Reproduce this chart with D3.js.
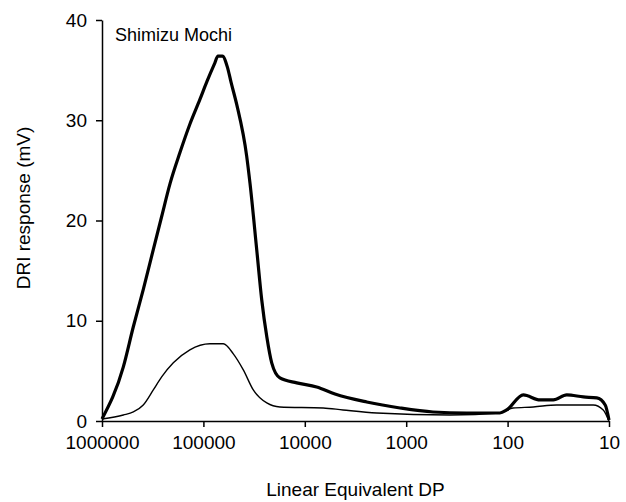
<!DOCTYPE html>
<html>
<head>
<meta charset="utf-8">
<script src="https://cdn.jsdelivr.net/npm/d3@7"></script>
<style>
  body { margin: 0; background: white; }
  #chart text { font-family: "Liberation Sans", Arial, sans-serif; fill: black; }
</style>
</head>
<body>
<div id="chart"></div>
<script>
// values
const sampleName = "Shimizu Mochi";

const dpThick = [1000000, 616000, 491000, 392000, 312000, 258000, 213000, 170000, 136000, 108000, 92000, 78000,
  71800, 65000, 58000, 53400, 47000, 37400, 34700, 29800, 26600, 23700, 21200, 17600, 12000, 7640, 5040,
  2450, 1150, 545, 253, 119, 102, 70, 47.9, 35.4, 26.1, 17.9, 13.2, 10.9, 10];
const thickValues = [0.2, 5.4, 9.4, 13.1, 17.1, 20.4, 23.7, 26.8, 29.6, 32.1, 33.9, 35.6,
  36.4, 36.4, 35.3, 33.8, 31.6, 26.4, 23.7, 17.1, 12.1, 8.4, 5.8, 4.3, 3.8, 3.4, 2.7,
  1.9, 1.3, 0.9, 0.8, 0.8, 1.1, 2.6, 2.1, 2.1, 2.6, 2.4, 2.3, 1.6, 0.1];

const dpThin = [1000000, 616000, 491000, 392000, 312000, 258000, 198000, 136000, 86100, 63600, 50700, 40400,
  32200, 23700, 17600, 6580, 4200, 1950, 370, 119, 88.5, 55.8, 32.8, 14.3, 11.4, 10];
const thinValues = [0.2, 0.6, 0.9, 1.6, 3.1, 4.4, 5.8, 7.1, 7.7, 7.7, 6.7, 5.1,
  3.1, 1.8, 1.4, 1.3, 1.1, 0.8, 0.6, 0.8, 1.3, 1.4, 1.6, 1.6, 1.1, 0];

const xTicks = [1000000, 100000, 10000, 1000, 100, 10];
const yTicks = [0, 10, 20, 30, 40];

const width = 626, height = 502;
const margin = { top: 20, right: 17, bottom: 81, left: 102 };
const w = width - margin.left - margin.right;
const h = height - margin.top - margin.bottom;

const svg = d3.select("#chart").append("svg")
    .attr("width", width)
    .attr("height", height);

const g = svg.append("g").attr("transform", `translate(${margin.left}, ${margin.top})`);

// DP axis runs high to low
const x = d3.scaleLog().domain([1000000, 10]).range([0, w]);
const y = d3.scaleLinear().domain([0, 40]).range([h, 0]);

const xAxis = g.append("g").attr("transform", `translate(0, ${h})`)
    .call(d3.axisBottom(x).tickValues(xTicks).tickFormat(d3.format("d")).tickSize(6).tickSizeOuter(0).tickPadding(9));
const yAxis = g.append("g")
    .call(d3.axisLeft(y).tickValues(yTicks).tickSize(6).tickSizeOuter(0).tickPadding(9));

[xAxis, yAxis].forEach(ax => {
    ax.selectAll("text").style("font-size", "19px");
    ax.selectAll(".domain, .tick line").style("stroke", "black").style("stroke-width", 1.5);
});

const line = d3.line()
    .x(d => x(d[0]))
    .y(d => y(d[1]))
    .curve(d3.curveMonotoneX);

g.append("path")
    .datum(d3.zip(dpThin, thinValues))
    .attr("d", line)
    .attr("fill", "none")
    .attr("stroke", "black")
    .attr("stroke-width", 1.4);

g.append("path")
    .datum(d3.zip(dpThick, thickValues))
    .attr("d", line)
    .attr("fill", "none")
    .attr("stroke", "black")
    .attr("stroke-width", 3.2)
    .attr("stroke-linejoin", "round");

g.append("text")
    .attr("x", 13).attr("y", 21)
    .style("font-size", "18px")
    .text(sampleName);

svg.append("text")
    .attr("text-anchor", "middle")
    .attr("x", margin.left + w / 2).attr("y", 496)
    .style("font-size", "19px")
    .text("Linear Equivalent DP");

svg.append("text")
    .attr("text-anchor", "middle")
    .attr("transform", `translate(30, ${208}) rotate(-90)`)
    .style("font-size", "19px")
    .text("DRI response (mV)");
</script>
</body>
</html>
